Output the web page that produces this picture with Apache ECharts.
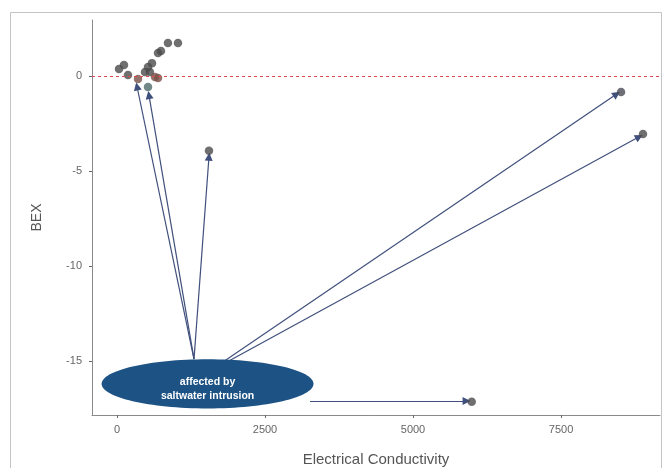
<!DOCTYPE html>
<html><head><meta charset="utf-8">
<script src="https://cdn.jsdelivr.net/npm/echarts@6/dist/echarts.min.js"></script>
<style>html,body{margin:0;padding:0;background:#fff}#c{width:665px;height:468px}</style>
</head><body><div id="c"></div>
<script>
// ---- data ----
const ec  = [34, 118, 186, 355, 524, 473, 557, 524, 591, 642, 693, 693, 743, 861, 1030, 1554, 8514, 8885, 5992];
const bex = [0.37, 0.58, 0.05, -0.16, -0.58, 0.21, 0.21, 0.47, 0.68, -0.05, -0.10, 1.21, 1.32, 1.74, 1.74, -3.93, -0.84, -3.05, -17.14];
const xTicks = [0, 2500, 5000, 7500];
const yTicks = [-15, -10, -5, 0];
const labelLines = ['affected by', 'saltwater intrusion'];
// arrow annotations: start / end in data units
const arrowStartEC  = [1301, 1301, 1301, 1790, 1858, 3260];
const arrowStartBEX = [-14.9, -14.9, -14.9, -15.05, -15.05, -17.1];
const arrowEndEC    = [338, 540, 1554, 8440, 8820, 5905];
const arrowEndBEX   = [-0.55, -1.0, -4.25, -0.95, -3.2, -17.1];

const chart = echarts.init(document.getElementById('c'), null, {renderer: 'canvas'});
const pts = ec.map((v, i) => [v, bex[i]]);
const arrows = arrowStartEC.map((v, i) => ({coords: [[v, arrowStartBEX[i]], [arrowEndEC[i], arrowEndBEX[i]]]}));
const ell = {cx: 1530, cy: -16.2, w: 3580, h: 2.6};

chart.setOption({
  animation: false,
  grid: {left: 92, right: 5, top: 20, bottom: 53, outerBoundsMode: 'none', containLabel: false},
  graphic: [{type: 'rect', shape: {x: 10.5, y: 12.5, width: 651, height: 470}, style: {fill: 'none', stroke: '#c4c4c4', lineWidth: 1}, z: -1}],
  xAxis: {
    type: 'value', min: -422, max: 9172,
    name: 'Electrical Conductivity', nameLocation: 'middle', nameGap: 37,
    nameTextStyle: {fontSize: 15, color: '#555', fontFamily: 'Liberation Sans'},
    splitLine: {show: false},
    axisLine: {onZero: false, lineStyle: {color: '#8a8a8a', width: 1}},
    axisTick: {show: true, length: 3, customValues: xTicks, lineStyle: {color: '#666'}},
    axisLabel: {customValues: xTicks, formatter: v => String(v), color: '#666', fontSize: 11, fontFamily: 'Liberation Sans', margin: 9}
  },
  yAxis: {
    type: 'value', min: -17.84, max: 2.95,
    name: 'BEX', nameLocation: 'middle', nameGap: 48, nameRotate: 90,
    nameTextStyle: {fontSize: 14, color: '#555', fontFamily: 'Liberation Sans'},
    splitLine: {show: false},
    axisLine: {show: true, onZero: false, lineStyle: {color: '#8a8a8a', width: 1}},
    axisTick: {show: true, length: 3, customValues: yTicks, lineStyle: {color: '#666'}},
    axisLabel: {customValues: yTicks, formatter: v => String(v), color: '#666', fontSize: 11, fontFamily: 'Liberation Sans', margin: 10}
  },
  series: [
    {
      type: 'scatter', data: [], itemStyle: {color: '#e0474c'},
      markLine: {
        silent: true, symbol: 'none', label: {show: false},
        lineStyle: {color: '#e0474c', type: [3, 3], width: 1},
        data: [{yAxis: 0}]
      }
    },
    {
      type: 'scatter', data: pts, symbolSize: 8.5, z: 3,
      itemStyle: {color: function (p) {
        const y = p.value[1];
        if (y < 0 && y > -0.3) return '#7a5048';
        if (y < -0.3 && y > -1) return p.value[0] < 2000 ? '#4f6a6a' : '#4a4a55';
        return '#4b4b4b';
      }}
    },
    {
      type: 'lines', coordinateSystem: 'cartesian2d', z: 2,
      symbol: ['none', 'triangle'], symbolSize: [0, 8],
      lineStyle: {color: '#40507c', width: 1.2, opacity: 1},
      data: arrows
    },
    {
      type: 'custom', z: 4,
      data: [[ell.cx, ell.cy]],
      renderItem: function (params, api) {
        const c = api.coord([api.value(0), api.value(1)]);
        const s = api.size([ell.w, ell.h]);
        return {
          type: 'group',
          children: [
            {type: 'ellipse', shape: {cx: c[0], cy: c[1], rx: s[0] / 2, ry: s[1] / 2}, style: {fill: '#1d5284'}},
            {type: 'text', x: c[0], y: c[1] + 5, style: {text: labelLines.join('\n'), fill: '#fff', fontSize: 10.5, fontWeight: 'bold', fontFamily: 'Liberation Sans', align: 'center', verticalAlign: 'middle', lineHeight: 14}}
          ]
        };
      }
    }
  ]
});
</script></body></html>
